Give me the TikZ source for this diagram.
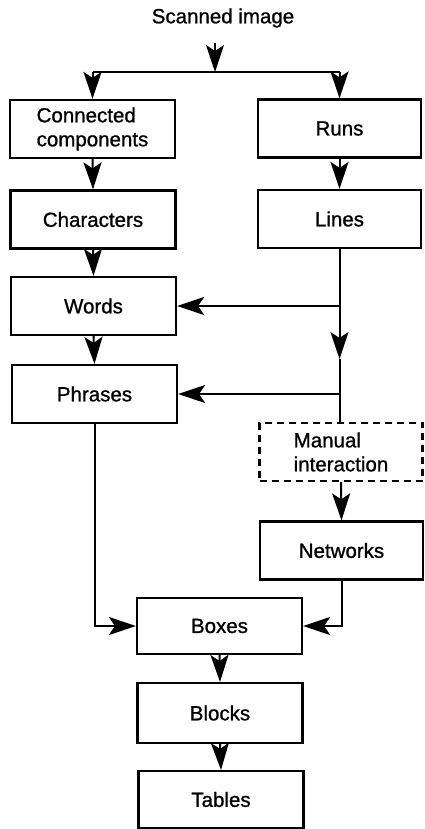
\documentclass[tikz,border=0pt]{standalone}
\usepackage{fontspec}
\setmainfont{Liberation Sans}[FakeBold=1]
\usetikzlibrary{arrows.meta}
\begin{document}
\begin{tikzpicture}[x=1pt,y=-1pt,
  font=\fontsize{20.5}{24}\selectfont,
  box/.style={draw, line width=2.2pt, minimum width=165pt, minimum height=58pt, inner sep=0pt, align=center},
  rbox/.style={box, minimum width=163pt},
  dbox/.style={rbox, dash pattern=on 7pt off 5pt},
  conn/.style={line width=2pt},
  arr/.style={conn, -{Stealth[length=27pt,width=18pt,inset=6pt]}}]
\useasboundingbox (0,0) rectangle (424,829);
\node (scan) at (223,18) {Scanned image};
\node[box, align=left] (cc) at (92.5,129) {Connected\\components};
\node[box] (chars) at (93,219.5) {Characters};
\node[box] (words) at (93.5,306) {Words};
\node[box] (phr) at (94.5,394) {Phrases};
\node[rbox] (runs) at (339.5,128.5) {Runs};
\node[rbox] (lines) at (339.5,219) {Lines};
\node[dbox, align=left] (man) at (341,452) {Manual\\interaction};
\node[rbox] (net) at (341.5,550.5) {Networks};
\node[box, minimum height=56pt] (boxes) at (219.5,626) {Boxes};
\node[box, minimum height=60pt] (blocks) at (220,713) {Blocks};
\node[box, minimum height=57pt] (tables) at (221,799.5) {Tables};
% top split
\coordinate (s0) at (215,43);
\coordinate (s1) at (215,72);
\coordinate (sl) at (92.5,72);
\coordinate (sr) at (339.5,72);
\draw[arr] (s0) -- (s1);
\draw[conn] (sl) -- (sr);
\draw[arr] (sl) -- (cc.north);
\draw[arr] (sr) -- (runs.north);
% left column
\draw[arr] (cc.south) -- (chars.north);
\draw[arr] (chars.south) -- (words.north);
\draw[arr] (words.south) -- (phr.north);
% right column
\draw[arr] (runs.south) -- (lines.north);
\coordinate (j1) at (lines.south |- words.east);
\coordinate (jm) at (339.5,359);
\coordinate (j2) at (lines.south |- phr.east);
\draw[conn] (lines.south) -- (j1);
\draw[arr] (j1) -- (words.east);
\draw[arr] (j1) -- (jm);
\draw[conn] (jm) -- (j2) -- (lines.south |- man.north);
\draw[arr] (j2) -- (phr.east);
\draw[arr] (man.south) -- (net.north);
% to boxes
\coordinate (bl) at (phr.south |- boxes.west);
\coordinate (br) at (net.south |- boxes.east);
\draw[arr] (phr.south) -- (bl) -- (boxes.west);
\draw[arr] (net.south) -- (br) -- (boxes.east);
\draw[arr] (boxes.south) -- (blocks.north);
\draw[arr] (blocks.south) -- (tables.north);
\end{tikzpicture}
\end{document}
